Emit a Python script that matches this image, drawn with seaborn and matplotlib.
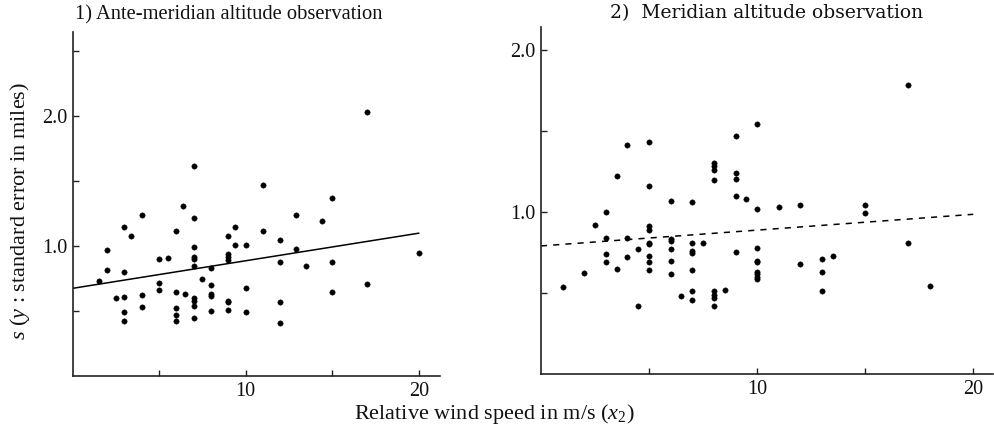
import matplotlib
matplotlib.use("Agg")
import matplotlib.pyplot as plt
import seaborn as sns
import pandas as pd

# ---------------- data ----------------
# 1) Ante-meridian altitude observation
ante_x = [17, 7, 11, 15, 4, 6.4, 7, 12.9, 14.4, 3, 3.4, 6, 9.4, 9, 11, 12, 9.4, 10,
          2, 7, 7, 7, 7, 9, 9, 9, 12.9, 5, 5.5, 12, 2, 3, 1.5, 8, 7.5, 13.5, 15, 20,
          5, 5, 8, 8, 8, 10, 2.5, 3, 4, 6, 6.5, 7, 7, 7, 9, 9, 9, 8, 10, 12, 12, 15,
          17, 3, 3, 4, 6, 6, 6, 7]
ante_s = [2.03, 1.62, 1.47, 1.37, 1.24, 1.31, 1.22, 1.24, 1.19, 1.15, 1.08, 1.12, 1.15,
          1.08, 1.12, 1.05, 1.01, 1.01, 0.97, 0.995, 0.92, 0.90, 0.85, 0.94, 0.915, 0.89,
          0.98, 0.90, 0.91, 0.88, 0.82, 0.80, 0.73, 0.83, 0.75, 0.85, 0.88, 0.95, 0.72,
          0.66, 0.70, 0.635, 0.615, 0.68, 0.60, 0.61, 0.62, 0.65, 0.63, 0.60, 0.58, 0.54,
          0.58, 0.57, 0.51, 0.50, 0.49, 0.57, 0.41, 0.65, 0.71, 0.49, 0.42, 0.53, 0.52,
          0.47, 0.42, 0.45]
ante_fit_x = [0, 20]
ante_fit_s = [0.675, 1.10]

# 2) Meridian altitude observation
mer_x = [17, 10, 9, 5, 4, 3.5, 8, 8, 8, 8, 9, 9, 5, 9, 9.5, 6, 7, 10, 11, 12, 15, 15,
         3, 2.5, 3, 4, 5, 5, 5, 5, 5, 5, 5, 6, 6, 6, 6, 6, 7, 7, 7, 7, 7, 7, 7.5, 6.5,
         8, 8, 8, 8, 8.5, 9, 10, 10, 10, 10, 10, 10, 10, 12, 13, 13, 13, 13.5, 17, 18,
         1, 2, 3, 3, 3.5, 4, 4.5, 4.5]
mer_s = [1.78, 1.54, 1.47, 1.43, 1.41, 1.22, 1.30, 1.28, 1.26, 1.195, 1.24, 1.20, 1.16,
         1.095, 1.08, 1.07, 1.06, 1.015, 1.03, 1.04, 1.04, 0.995, 1.0, 0.92, 0.84, 0.84,
         0.91, 0.89, 0.81, 0.80, 0.73, 0.69, 0.64, 0.83, 0.82, 0.77, 0.70, 0.62, 0.81,
         0.76, 0.745, 0.64, 0.51, 0.455, 0.81, 0.48, 0.51, 0.49, 0.47, 0.42, 0.52, 0.75,
         0.78, 0.70, 0.69, 0.63, 0.615, 0.60, 0.585, 0.68, 0.71, 0.63, 0.51, 0.73, 0.81,
         0.54, 0.535, 0.625, 0.74, 0.69, 0.65, 0.72, 0.77, 0.42]
mer_fit_x = [0, 20]
mer_fit_s = [0.79, 0.985]

titles = ["1) Ante-meridian altitude observation", "2)  Meridian altitude observation"]
x_ticks = [5, 10, 15, 20]
x_ticklabels = ["", "10", "", "20"]
y_ticks_left = [0.5, 1.0, 1.5, 2.0, 2.5]
y_ticklabels_left = ["", "1.0", "", "2.0", ""]
y_ticks_right = [0.5, 1.0, 1.5, 2.0]
y_ticklabels_right = ["", "1.0", "", "2.0"]

# ---------------- style ----------------
sns.set_theme(style="ticks")
plt.rcParams["font.family"] = ["Liberation Serif", "DejaVu Serif"]
plt.rcParams["mathtext.fontset"] = "custom"
plt.rcParams["mathtext.rm"] = "Liberation Serif"
plt.rcParams["mathtext.it"] = "Liberation Serif:italic"

fig = plt.figure(figsize=(9.95, 4.28), dpi=100)
axL = fig.add_axes([0.0729, 0.1215, 0.369, 0.804])
axR = fig.add_axes([0.5437, 0.126, 0.454, 0.811])

dfL = pd.DataFrame({"x": ante_x, "s": ante_s})
dfR = pd.DataFrame({"x": mer_x, "s": mer_s})

for ax, df, fx, fs, ls in [(axL, dfL, ante_fit_x, ante_fit_s, "-"),
                           (axR, dfR, mer_fit_x, mer_fit_s, (0, (4, 4)))]:
    sns.scatterplot(data=df, x="x", y="s", ax=ax, color="black", s=15,
                    edgecolor="black", linewidth=0.3, zorder=3)
    sns.lineplot(x=fx, y=fs, ax=ax, color="black", linewidth=1.1, linestyle=ls)
    ax.set_xlabel("")
    ax.set_ylabel("")
    ax.set_xticks(x_ticks)
    ax.set_xticklabels(x_ticklabels)
    for sp in ["top", "right"]:
        ax.spines[sp].set_visible(False)
    for sp in ["left", "bottom"]:
        ax.spines[sp].set_linewidth(1.2)
        ax.spines[sp].set_color("#222222")
    ax.tick_params(direction="in", length=4, width=1, colors="#222222",
                   labelsize=14.5, labelcolor="#111111", pad=4)

axL.set_xlim(0, 21.2)
axL.set_ylim(0, 2.65)
axL.set_yticks(y_ticks_left)
axL.set_yticklabels(y_ticklabels_left)

axR.set_xlim(0, 20.9)
axR.set_ylim(0, 2.14)
axR.set_yticks(y_ticks_right)
axR.set_yticklabels(y_ticklabels_right)

fig.text(0.075, 0.988, titles[0], ha="left", va="top", fontsize=14.8, color="#111111")
fig.text(0.613, 0.99, titles[1], ha="left", va="top", fontsize=13.5, color="#111111",
         family=["DejaVu Serif"])
fig.text(0.497, 0.004, r"Relative wind speed in m/s ($x_2$)", ha="center", va="bottom",
         fontsize=16, color="#111111")
fig.text(0.02, 0.507, r"$s$ ($y$ : standard error in miles)", ha="center", va="center",
         rotation=90, fontsize=16, color="#111111")

fig.savefig("out.png", dpi=100)
